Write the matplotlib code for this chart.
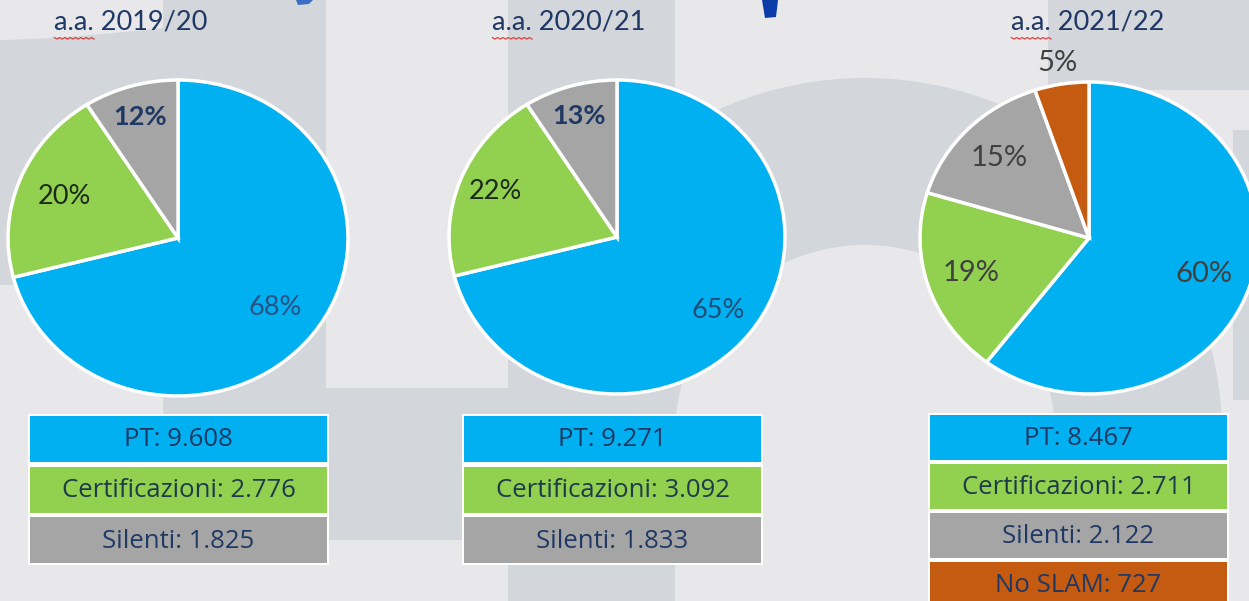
import matplotlib
matplotlib.use("Agg")
import matplotlib.pyplot as plt
from matplotlib.patches import Rectangle, Polygon, Wedge
import numpy as np

# data
YEARS = ["a.a. 2019/20", "a.a. 2020/21", "a.a. 2021/22"]
CATEGORIES = ["PT", "Certificazioni", "Silenti", "No SLAM"]
# wedge shares as drawn in the slide (first two pies are drawn 71/20/9)
SHARE_1920 = [71, 20, 9]
SHARE_2021 = [71, 20, 9]
SHARE_2122 = [8467, 2711, 2122, 727]
PCT_1920 = ["68%", "20%", "12%"]
PCT_2021 = ["65%", "22%", "13%"]
PCT_2122 = ["60%", "19%", "15%", "5%"]
COUNT_TEXT_1920 = ["9.608", "2.776", "1.825"]
COUNT_TEXT_2021 = ["9.271", "3.092", "1.833"]
COUNT_TEXT_2122 = ["8.467", "2.711", "2.122", "727"]

COLORS = ["#00B0F0", "#92D050", "#A5A5A5", "#C55A11"]
NAVY = "#1F3864"
BG = "#E8E8EA"
WM = "#D3D6DA"

W, H = 1249, 601
fig = plt.figure(figsize=(W / 100, H / 100), dpi=100)
fig.patch.set_facecolor(BG)

bg = fig.add_axes([0, 0, 1, 1])
bg.set_xlim(0, W)
bg.set_ylim(H, 0)
bg.axis("off")
bg.set_zorder(0)

# faint watermark shapes behind the charts
xs = np.linspace(0, 163, 20)
top = 40 - 12 * (xs / 163) ** 1.5
bg.add_patch(Polygon(list(zip(xs, top)) + [(163, 285), (0, 285)], color=WM, lw=0))
bg.add_patch(Rectangle((163, 0), 163, 540, color=WM, lw=0))
bg.add_patch(Rectangle((326, 388), 182, 152, color=WM, lw=0))
bg.add_patch(Rectangle((508, 0), 167, H, color=WM, lw=0))
bg.add_patch(Wedge((865, 435), 357, 180, 360, width=357 - 190, color=WM, lw=0))
bg.add_patch(Rectangle((1055, 435), 167, 170, color=WM, lw=0))
bg.add_patch(Rectangle((1048, 0), 201, 90, color=WM, lw=0))
bg.add_patch(Rectangle((1233, 130), 16, 270, color=WM, lw=0))
bg.add_patch(Polygon([(762, 0), (778, 0), (776, 17), (765, 18)], color="#0B3BA6", lw=0))
bg.add_patch(Polygon([(296, 0), (313, 0), (309, 4), (298, 5)], color="#3A6FC4", lw=0))

pies = [
    (SHARE_1920, PCT_1920, COUNT_TEXT_1920),
    (SHARE_2021, PCT_2021, COUNT_TEXT_2021),
    (SHARE_2122, PCT_2122, COUNT_TEXT_2122),
]
centers = [(178, 238, 170, 158), (617, 237, 168, 157), (1089, 238, 169, 156)]
label_r = [[0.72, 0.72, 0.8], [0.76, 0.78, 0.8], [0.72, 0.73, 0.74, 1.14]]
label_size = [19.5, 19.5, 21]
label_colors = [
    ["#2A5286", "#1C2A1C", NAVY],
    ["#1F4E79", "#1C2A1C", NAVY],
    ["#404040", "#404040", "#404040", "#404040"],
]
label_weight = [["normal", "normal", "bold"], ["normal", "normal", "bold"],
                ["normal"] * 4]
title_x = [131, 569, 1088]
box_x = [(30, 327), (464, 761), (930, 1227)]
box_rows = [(416, 50.5, 46), (416, 50.5, 46), (415, 49, 45)]

renderer = fig.canvas.get_renderer()

for i, (shares, pcts, ctext) in enumerate(pies):
    cx, cy, rx, ry = centers[i]
    pad = 1.1
    ax = fig.add_axes([(cx - pad * rx) / W, (H - cy - pad * ry) / H,
                       2 * pad * rx / W, 2 * pad * ry / H])
    ax.set_zorder(1)
    ax.patch.set_alpha(0)
    wedges, _ = ax.pie(shares, colors=COLORS[:len(shares)], startangle=90,
                       counterclock=False,
                       wedgeprops=dict(edgecolor="white", linewidth=2.5))
    ax.set_aspect("auto")
    ax.set_xlim(-pad, pad)
    ax.set_ylim(-pad, pad)
    for w in wedges:
        w.set_clip_on(False)
    for j, w in enumerate(wedges):
        mid = np.deg2rad((w.theta1 + w.theta2) / 2)
        r = label_r[i][j]
        ax.text(r * np.cos(mid), r * np.sin(mid), pcts[j], ha="center", va="center",
                fontsize=label_size[i], family="Lato", color=label_colors[i][j],
                fontweight=label_weight[i][j])

    # year title with the spell-check squiggle under "a.a."
    t = bg.text(title_x[i], 22, YEARS[i], ha="center", va="center",
                fontsize=19.5, family="Lato", color=NAVY)
    bb = t.get_window_extent(renderer)
    tmp = bg.text(0, 0, "a.a.", fontsize=19.5, family="Lato")
    aw = tmp.get_window_extent(renderer).width
    tmp.remove()
    sx = np.linspace(bb.x0, bb.x0 + aw, 16)
    sy = (H - bb.y0) + 3 + np.where(np.arange(16) % 2 == 0, 0, 1.6)
    bg.plot(sx, sy, color="#E03030", lw=0.8)

    # table of counts below the pie
    x0, x1 = box_x[i]
    y0, pitch, h = box_rows[i]
    n = len(shares)
    bg.add_patch(Rectangle((x0 - 2, y0 - 2), x1 - x0 + 4,
                           pitch * (n - 1) + h + 4, color="white", lw=0))
    for j in range(n):
        ry0 = y0 + j * pitch
        bg.add_patch(Rectangle((x0, ry0), x1 - x0, h, color=COLORS[j], lw=0))
        tc = "#1E3B4A" if j == 1 else NAVY
        bg.text((x0 + x1) / 2, ry0 + h / 2 + 1, f"{CATEGORIES[j]}: {ctext[j]}",
                ha="center", va="center", fontsize=18.5, family="Open Sans",
                color=tc)

fig.savefig("out.png", dpi=100, facecolor=BG)
